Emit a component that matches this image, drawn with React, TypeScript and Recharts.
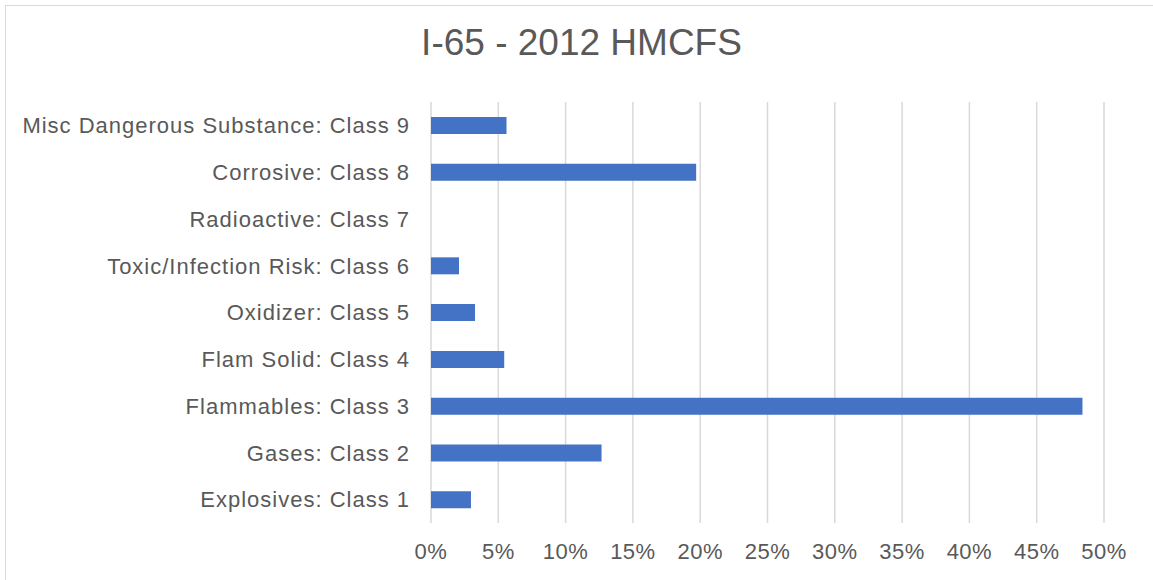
import { BarChart, Bar, XAxis, YAxis, CartesianGrid } from 'recharts';

const categories = [
  'Explosives: Class 1',
  'Gases: Class 2',
  'Flammables: Class 3',
  'Flam Solid: Class 4',
  'Oxidizer: Class 5',
  'Toxic/Infection Risk: Class 6',
  'Radioactive: Class 7',
  'Corrosive: Class 8',
  'Misc Dangerous Substance: Class 9',
];

const shares = [0.0297, 0.1267, 0.484, 0.0544, 0.0327, 0.0208, 0, 0.197, 0.0561];

const xTicks = [0, 0.05, 0.1, 0.15, 0.2, 0.25, 0.3, 0.35, 0.4, 0.45, 0.5];

const data = categories.map((name, i) => ({ name, value: shares[i] }));

const textColor = '#595959';

export default function App() {
  return (
    <div
      style={{
        position: 'absolute',
        left: 0,
        top: 0,
        width: 1153,
        height: 580,
        overflow: 'hidden',
        background: '#fff',
        fontFamily: '"Liberation Sans", Arial, sans-serif',
      }}
    >
      <div
        style={{
          position: 'absolute',
          left: 5,
          top: 5,
          width: 1170,
          height: 620,
          border: '1.5px solid #d9d9d9',
        }}
      />
      <div
        style={{
          position: 'absolute',
          left: 0,
          top: 22,
          width: 1163,
          textAlign: 'center',
          fontSize: 37,
          color: textColor,
        }}
      >
        I-65 - 2012 HMCFS
      </div>
      <div style={{ position: 'absolute', left: 0, top: 0 }}>
        <BarChart
          width={1153}
          height={580}
          data={data}
          layout="vertical"
          margin={{ top: 102, right: 49, bottom: 17, left: 0 }}
        >
          <CartesianGrid horizontal={false} stroke="#d9d9d9" strokeWidth={1.5} />
          <XAxis
            type="number"
            domain={[0, 0.5]}
            ticks={xTicks}
            tickFormatter={(v: number) => `${Math.round(v * 100)}%`}
            axisLine={false}
            tickLine={false}
            tickSize={0}
            tickMargin={20}
            height={40}
            interval={0}
            tick={{ fontSize: 22, fill: textColor, letterSpacing: 0.5 }}
          />
          <YAxis
            type="category"
            dataKey="name"
            reversed
            width={431}
            axisLine={false}
            tickLine={false}
            tickSize={0}
            tickMargin={21}
            interval={0}
            tick={{ fontSize: 22, fill: textColor, letterSpacing: 1 }}
          />
          <Bar dataKey="value" fill="#4472C4" barSize={17} isAnimationActive={false} />
        </BarChart>
      </div>
    </div>
  );
}
